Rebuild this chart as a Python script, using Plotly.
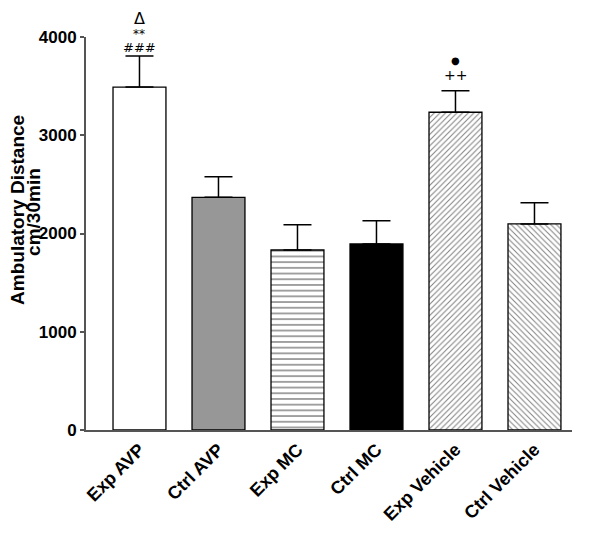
import plotly.graph_objects as go

categories = ["Exp AVP", "Ctrl AVP", "Exp MC", "Ctrl MC", "Exp Vehicle", "Ctrl Vehicle"]
means = [3490, 2368, 1832, 1893, 3234, 2097]
sems = [317, 210, 258, 237, 219, 216]
tick_vals = [0, 1000, 2000, 3000, 4000]

fills = ["white", "#979797", "white", "black", "white", "white"]
shapes = ["", "", "-", "", "/", "\\"]
sizes = [6, 6, 5.7, 6, 4, 4]

fig = go.Figure()
for i, cat in enumerate(categories):
    marker = dict(color=fills[i], line=dict(color="black", width=1.3))
    if shapes[i]:
        marker["pattern"] = dict(shape=shapes[i], size=sizes[i], solidity=0.25, fgcolor="black")
    fig.add_trace(go.Bar(
        x=[i], y=[means[i]], width=0.67, name=cat,
        marker=marker,
        error_y=dict(type="data", array=[sems[i]], symmetric=False, arrayminus=[0],
                     color="black", thickness=1.5, width=14),
        cliponaxis=False,
    ))

fig.update_layout(
    width=600, height=533,
    margin=dict(l=78, r=36, t=29, b=111),
    plot_bgcolor="white", paper_bgcolor="white",
    showlegend=False, barmode="overlay",
    font=dict(family="Liberation Sans, Arial, sans-serif", color="black"),
    xaxis=dict(range=[-0.677, 5.475], tickvals=list(range(6)), ticktext=["<b>%s</b>" % c for c in categories],
               tickangle=-45, tickfont=dict(size=18), showline=True, linecolor="#555", linewidth=2,
               ticks="", showgrid=False, zeroline=False, automargin=False),
    yaxis=dict(range=[0, 4000], tickvals=tick_vals, ticktext=["<b>%d</b>" % v for v in tick_vals],
               tickfont=dict(size=17), showline=True, linecolor="#555", linewidth=2,
               ticks="outside", ticklen=4, tickcolor="#555", tickwidth=2, showgrid=False, zeroline=False,
               automargin=False),
)

# y-axis title, two tight lines
fig.add_annotation(xref="paper", yref="paper", x=0, y=0.56, xshift=-68, textangle=-90,
                   xanchor="center", yanchor="middle",
                   text="<b>Ambulatory Distance</b>", showarrow=False,
                   font=dict(size=19, color="black"))
fig.add_annotation(xref="paper", yref="paper", x=0, y=0.555, xshift=-52, textangle=-90,
                   xanchor="center", yanchor="middle",
                   text="<b>cm/30min</b>", showarrow=False,
                   font=dict(size=19, color="black"))

tops = [m + s for m, s in zip(means, sems)]
marks = [
    (0, "Δ", 37, 16),
    (0, "**", 22, 12),
    (0, "###", 8, 13),
    (4, "●", 30, 10),
    (4, "++", 16, 14),
]
for idx, txt, shift, size in marks:
    fig.add_annotation(x=idx, y=tops[idx], yanchor="middle", showarrow=False, yshift=shift,
                       text=txt, font=dict(size=size, color="black", family="DejaVu Sans, sans-serif"))

fig.write_html("out.html")
